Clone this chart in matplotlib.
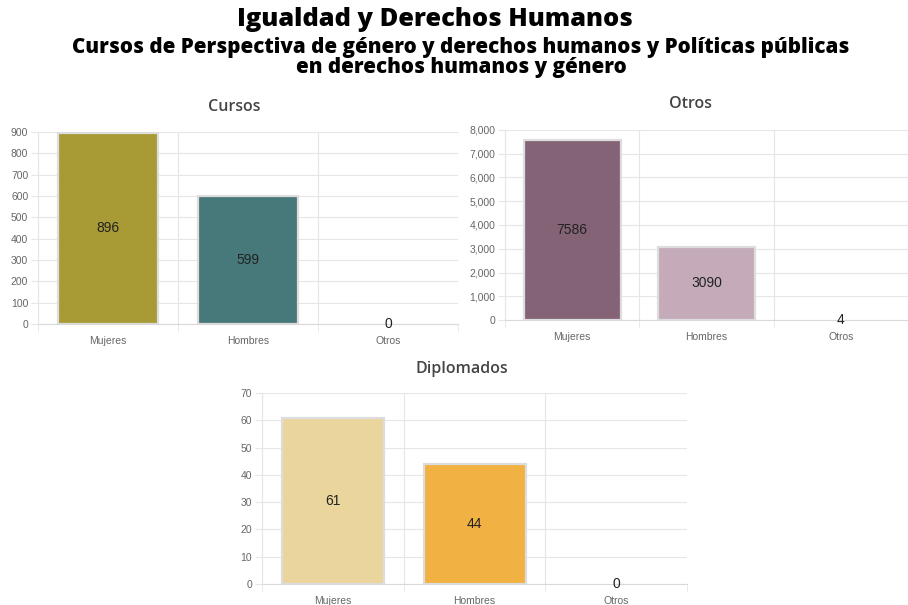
import matplotlib.pyplot as plt
from matplotlib.ticker import FuncFormatter

W, H = 908, 605

categorias = ['Mujeres', 'Hombres', 'Otros']

cursos = [896, 599, 0]
otros = [7586, 3090, 4]
diplomados = [61, 44, 0]

colores_cursos = ['#a89b36', '#47797a', '#47797a']
colores_otros = ['#846377', '#c5abba', '#c5abba']
colores_diplomados = ['#ead59c', '#f2b143', '#f2b143']

GRID = '#e6e6e6'
TICK = '#666666'


def px_axes(fig, left, top, right, bottom):
    return fig.add_axes([left / W, 1 - bottom / H, (right - left) / W, (bottom - top) / H])


def panel(fig, caja, titulo, pos_titulo, valores, colores, ymax, paso, miles=False):
    ax = px_axes(fig, *caja)
    n = len(valores)
    bordes = [1.6 if v / ymax > 0.01 else 0 for v in valores]
    ax.bar(range(n), valores, width=0.72, color=colores,
           edgecolor='#dddddd', linewidth=bordes, zorder=2)
    ax.set_xlim(-0.5, n - 0.5)
    ax.set_ylim(0, ymax)
    ax.set_yticks(range(0, ymax + 1, paso))
    if miles:
        ax.yaxis.set_major_formatter(FuncFormatter(lambda v, p: f'{int(v):,}'))
    ax.set_xticks(range(n))
    ax.set_xticklabels(categorias)
    ax.set_xticks([i - 0.5 for i in range(n + 1)], minor=True)
    ax.grid(axis='y', color=GRID, linewidth=0.8, zorder=0)
    ax.grid(axis='x', which='minor', color=GRID, linewidth=0.8, zorder=0)
    ax.tick_params(axis='y', length=5, color=GRID, labelcolor=TICK, labelsize=7.5, pad=2)
    ax.tick_params(axis='x', which='major', length=0, labelcolor=TICK, labelsize=7.5, pad=9)
    ax.tick_params(axis='x', which='minor', length=6, color=GRID)
    for s in ax.spines.values():
        s.set_visible(False)
    ax.spines['bottom'].set_visible(True)
    ax.spines['bottom'].set_color('#d9d9d9')
    ax.spines['left'].set_visible(True)
    ax.spines['left'].set_color(GRID)
    for i, v in enumerate(valores):
        ax.text(i, v / 2, str(v), ha='center', va='center', fontsize=10,
                color='#222222', family='Liberation Sans', zorder=3)
    # el título va centrado sobre todo el bloque del gráfico, no sólo el área de datos
    fig.text(pos_titulo[0] / W, 1 - pos_titulo[1] / H, titulo, ha='center', va='center',
             fontsize=11.5, family='Open Sans', fontweight='semibold', color='#444444')
    return ax


plt.rcParams['font.family'] = ['Liberation Sans', 'DejaVu Sans']
fig = plt.figure(figsize=(W / 100, H / 100), dpi=100)

fig.text(435 / W, 1 - 20 / H, 'Igualdad y Derechos Humanos', ha='center', va='center',
         fontsize=18.3, family='Open Sans', fontweight='heavy', color='black')
fig.text(461 / W, 1 - 47 / H,
         'Cursos de Perspectiva de género y derechos humanos y Políticas públicas',
         ha='center', va='center', fontsize=14.8, family='Open Sans', fontweight='heavy')
fig.text(461 / W, 1 - 68 / H, 'en derechos humanos y género', ha='center', va='center',
         fontsize=14.8, family='Open Sans', fontweight='heavy')

panel(fig, (38, 132, 458, 324), 'Cursos', (234, 107),
      cursos, colores_cursos, 900, 100)
panel(fig, (505, 130, 908, 320), 'Otros', (690, 104),
      otros, colores_otros, 8000, 1000, miles=True)
panel(fig, (262, 393, 687, 584), 'Diplomados', (462, 369),
      diplomados, colores_diplomados, 70, 10)

fig.savefig('out.png', dpi=100, facecolor='white')
